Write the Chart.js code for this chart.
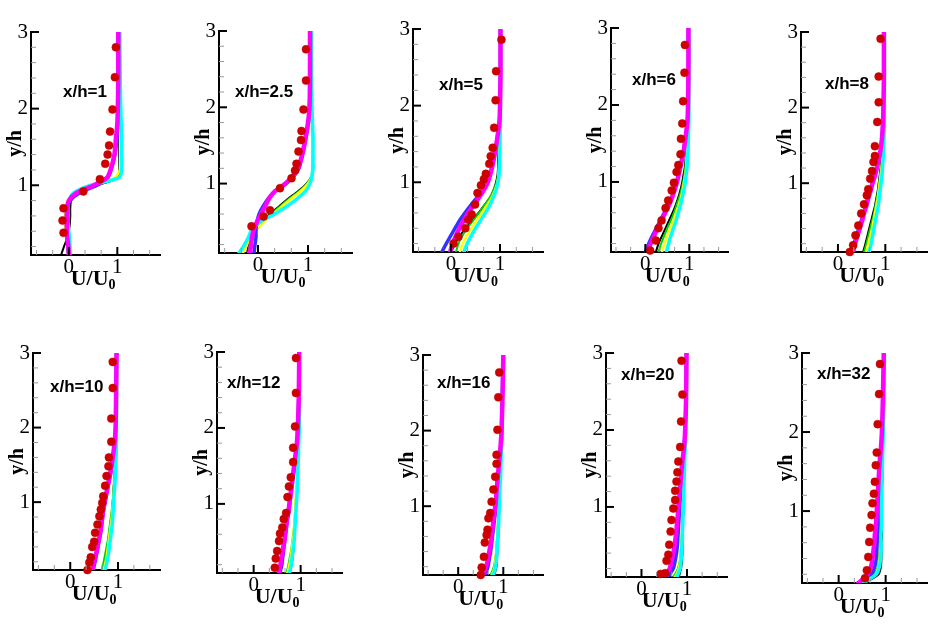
<!DOCTYPE html>
<html>
<head>
<meta charset="utf-8">
<script src="https://cdn.jsdelivr.net/npm/chart.js@4.4.1/dist/chart.umd.min.js"></script>
<style>
  html, body { margin: 0; padding: 0; background: #fff; }
  #page { position: relative; width: 942px; height: 628px; overflow: hidden; }
  #page canvas { position: absolute; }
</style>
</head>
<body>
<div id="page"></div>
<script>
// velocity profiles U/U0 vs y/h at ten stations behind the step

const stations = ['1', '2.5', '5', '6', '8', '10', '12', '16', '20', '32'];

// heights where the simulated profiles are sampled
const yLevels = [0.09, 0.2, 0.3, 0.4, 0.5, 0.6, 0.7, 0.8, 0.9, 1.0, 1.1, 1.2, 1.4, 1.6, 1.8, 2.0, 2.4, 3.0];

const magentaU = [
  [0.0, -0.01, -0.03, -0.04, -0.04, -0.04, -0.03, 0.0, 0.16, 0.52, 0.79, 0.86, 0.94, 0.97, 1.0, 1.01, 1.02, 1.02],
  [-0.16, -0.14, -0.12, -0.08, -0.02, 0.06, 0.14, 0.22, 0.34, 0.55, 0.7, 0.8, 0.89, 0.95, 1.0, 1.03, 1.04, 1.04],
  [-0.02, 0.03, 0.1, 0.17, 0.26, 0.35, 0.46, 0.57, 0.67, 0.75, 0.8, 0.84, 0.9, 0.95, 0.99, 1.0, 1.01, 1.01],
  [0.04, 0.12, 0.2, 0.28, 0.37, 0.45, 0.54, 0.61, 0.67, 0.72, 0.76, 0.8, 0.87, 0.92, 0.96, 0.97, 0.98, 0.98],
  [0.32, 0.36, 0.41, 0.46, 0.51, 0.55, 0.6, 0.64, 0.69, 0.73, 0.78, 0.82, 0.89, 0.93, 0.95, 0.96, 0.97, 0.97],
  [0.47, 0.5, 0.54, 0.57, 0.6, 0.63, 0.65, 0.67, 0.69, 0.72, 0.75, 0.78, 0.84, 0.89, 0.93, 0.95, 0.96, 0.97],
  [0.54, 0.57, 0.6, 0.62, 0.65, 0.67, 0.69, 0.71, 0.74, 0.76, 0.78, 0.8, 0.84, 0.88, 0.92, 0.94, 0.96, 0.97],
  [0.55, 0.62, 0.66, 0.69, 0.72, 0.74, 0.76, 0.78, 0.8, 0.82, 0.84, 0.85, 0.88, 0.91, 0.94, 0.96, 0.98, 1.0],
  [0.5, 0.62, 0.66, 0.7, 0.73, 0.75, 0.77, 0.78, 0.8, 0.81, 0.83, 0.84, 0.87, 0.9, 0.94, 0.96, 0.98, 0.99],
  [0.42, 0.62, 0.69, 0.72, 0.74, 0.76, 0.77, 0.79, 0.8, 0.81, 0.82, 0.83, 0.85, 0.87, 0.9, 0.92, 0.94, 0.96]
];

const blueU = [
  [0.0, -0.02, -0.03, -0.04, -0.05, -0.05, -0.04, 0.02, 0.22, 0.58, 0.8, 0.87, 0.95, 0.99, 1.01, 1.02, 1.02, 1.02],
  [-0.08, -0.06, -0.04, -0.04, -0.02, 0.02, 0.1, 0.2, 0.34, 0.56, 0.72, 0.82, 0.9, 0.96, 1.01, 1.03, 1.04, 1.04],
  [-0.19, -0.1, -0.01, 0.08, 0.17, 0.28, 0.4, 0.53, 0.64, 0.73, 0.79, 0.84, 0.9, 0.95, 0.99, 1.0, 1.01, 1.01],
  [0.0, 0.08, 0.16, 0.25, 0.34, 0.43, 0.52, 0.6, 0.66, 0.72, 0.76, 0.8, 0.87, 0.92, 0.96, 0.97, 0.98, 0.98],
  [0.29, 0.34, 0.39, 0.44, 0.49, 0.54, 0.59, 0.63, 0.68, 0.73, 0.78, 0.82, 0.89, 0.93, 0.95, 0.96, 0.97, 0.97],
  [0.48, 0.52, 0.55, 0.58, 0.61, 0.64, 0.66, 0.68, 0.7, 0.73, 0.76, 0.79, 0.85, 0.9, 0.93, 0.95, 0.96, 0.97],
  [0.56, 0.6, 0.62, 0.64, 0.66, 0.68, 0.7, 0.72, 0.75, 0.77, 0.79, 0.81, 0.85, 0.89, 0.92, 0.94, 0.96, 0.97],
  [0.6, 0.66, 0.69, 0.72, 0.74, 0.76, 0.78, 0.8, 0.82, 0.84, 0.85, 0.86, 0.89, 0.92, 0.95, 0.97, 0.98, 1.0],
  [0.58, 0.7, 0.74, 0.77, 0.79, 0.8, 0.81, 0.82, 0.83, 0.84, 0.85, 0.86, 0.88, 0.91, 0.94, 0.96, 0.98, 0.99],
  [0.45, 0.7, 0.77, 0.8, 0.81, 0.82, 0.83, 0.84, 0.85, 0.86, 0.86, 0.87, 0.88, 0.9, 0.92, 0.93, 0.95, 0.96]
];

const cyanU = [
  [0.02, 0.02, 0.01, 0.0, -0.02, -0.02, -0.02, 0.0, 0.1, 0.45, 1.04, 1.09, 1.09, 1.09, 1.08, 1.07, 1.06, 1.05],
  [-0.38, -0.27, -0.19, -0.12, 0.05, 0.33, 0.57, 0.78, 0.95, 1.04, 1.08, 1.1, 1.1, 1.1, 1.09, 1.08, 1.07, 1.07],
  [0.26, 0.33, 0.41, 0.5, 0.6, 0.7, 0.79, 0.86, 0.92, 0.96, 0.98, 0.99, 1.0, 1.0, 1.01, 1.01, 1.01, 1.01],
  [0.48, 0.53, 0.58, 0.64, 0.7, 0.75, 0.8, 0.84, 0.88, 0.91, 0.93, 0.95, 0.97, 0.98, 0.99, 0.99, 0.99, 0.99],
  [0.66, 0.7, 0.73, 0.76, 0.79, 0.82, 0.85, 0.87, 0.89, 0.91, 0.93, 0.94, 0.96, 0.97, 0.98, 0.98, 0.98, 0.98],
  [0.73, 0.77, 0.8, 0.82, 0.84, 0.86, 0.88, 0.89, 0.9, 0.91, 0.92, 0.93, 0.95, 0.96, 0.97, 0.97, 0.97, 0.97],
  [0.76, 0.8, 0.82, 0.84, 0.86, 0.87, 0.88, 0.89, 0.9, 0.91, 0.92, 0.93, 0.94, 0.95, 0.96, 0.97, 0.97, 0.97],
  [0.78, 0.83, 0.85, 0.86, 0.87, 0.88, 0.89, 0.9, 0.9, 0.91, 0.92, 0.92, 0.94, 0.95, 0.96, 0.97, 0.98, 0.99],
  [0.78, 0.85, 0.87, 0.88, 0.89, 0.9, 0.9, 0.91, 0.91, 0.92, 0.93, 0.93, 0.94, 0.95, 0.96, 0.97, 0.98, 0.99],
  [0.52, 0.8, 0.87, 0.89, 0.9, 0.9, 0.9, 0.91, 0.91, 0.91, 0.91, 0.92, 0.92, 0.93, 0.94, 0.95, 0.96, 0.97]
];

const yellowU = [
  [0.0, -0.02, -0.04, -0.06, -0.08, -0.08, -0.08, -0.02, 0.18, 0.55, 0.95, 1.05, 1.06, 1.06, 1.06, 1.06, 1.05, 1.05],
  [-0.3, -0.22, -0.14, -0.04, 0.12, 0.3, 0.48, 0.66, 0.85, 1.0, 1.08, 1.09, 1.09, 1.09, 1.08, 1.07, 1.06, 1.06],
  [0.18, 0.24, 0.32, 0.42, 0.52, 0.63, 0.73, 0.83, 0.9, 0.95, 0.97, 0.98, 0.99, 1.0, 1.0, 1.0, 1.01, 1.01],
  [0.38, 0.44, 0.5, 0.57, 0.64, 0.7, 0.76, 0.81, 0.85, 0.88, 0.91, 0.93, 0.95, 0.97, 0.98, 0.98, 0.98, 0.98],
  [0.6, 0.64, 0.68, 0.72, 0.75, 0.78, 0.81, 0.84, 0.86, 0.88, 0.9, 0.92, 0.95, 0.96, 0.97, 0.97, 0.97, 0.97],
  [0.7, 0.74, 0.77, 0.79, 0.81, 0.83, 0.85, 0.87, 0.88, 0.9, 0.91, 0.92, 0.94, 0.95, 0.96, 0.97, 0.97, 0.97],
  [0.72, 0.76, 0.79, 0.81, 0.83, 0.85, 0.86, 0.87, 0.88, 0.89, 0.9, 0.91, 0.93, 0.94, 0.95, 0.96, 0.97, 0.97],
  [0.75, 0.81, 0.83, 0.85, 0.86, 0.87, 0.88, 0.89, 0.89, 0.9, 0.91, 0.92, 0.93, 0.94, 0.95, 0.96, 0.98, 0.99],
  [0.74, 0.82, 0.85, 0.87, 0.88, 0.89, 0.89, 0.9, 0.9, 0.91, 0.92, 0.92, 0.94, 0.95, 0.96, 0.97, 0.98, 0.99],
  [0.5, 0.78, 0.85, 0.87, 0.88, 0.89, 0.89, 0.89, 0.9, 0.9, 0.9, 0.91, 0.91, 0.92, 0.93, 0.94, 0.95, 0.96]
];

const greenU = [
  [0.03, 0.03, 0.02, 0.0, -0.01, -0.02, -0.02, 0.0, 0.14, 0.5, 0.98, 1.06, 1.07, 1.07, 1.07, 1.06, 1.05, 1.05],
  [-0.2, -0.16, -0.1, -0.02, 0.1, 0.26, 0.44, 0.62, 0.82, 0.98, 1.07, 1.08, 1.09, 1.09, 1.08, 1.07, 1.06, 1.06],
  [0.1, 0.15, 0.23, 0.33, 0.45, 0.57, 0.68, 0.79, 0.87, 0.93, 0.96, 0.97, 0.98, 0.99, 0.99, 1.0, 1.0, 1.0],
  [0.3, 0.36, 0.43, 0.5, 0.58, 0.65, 0.71, 0.77, 0.82, 0.86, 0.89, 0.91, 0.94, 0.96, 0.97, 0.98, 0.98, 0.98],
  [0.55, 0.6, 0.64, 0.68, 0.72, 0.76, 0.79, 0.82, 0.85, 0.87, 0.89, 0.91, 0.94, 0.95, 0.96, 0.97, 0.97, 0.97],
  [0.66, 0.7, 0.73, 0.76, 0.79, 0.81, 0.83, 0.85, 0.87, 0.89, 0.9, 0.91, 0.93, 0.95, 0.96, 0.97, 0.97, 0.97],
  [0.7, 0.74, 0.77, 0.8, 0.82, 0.84, 0.86, 0.87, 0.88, 0.89, 0.9, 0.91, 0.93, 0.94, 0.95, 0.96, 0.97, 0.97],
  [0.72, 0.79, 0.82, 0.84, 0.85, 0.86, 0.87, 0.88, 0.89, 0.9, 0.91, 0.92, 0.93, 0.94, 0.95, 0.96, 0.98, 0.99],
  [0.7, 0.8, 0.84, 0.86, 0.87, 0.88, 0.89, 0.9, 0.9, 0.91, 0.92, 0.92, 0.94, 0.95, 0.96, 0.97, 0.98, 0.99],
  [0.5, 0.75, 0.84, 0.86, 0.87, 0.88, 0.88, 0.89, 0.89, 0.9, 0.9, 0.9, 0.91, 0.92, 0.93, 0.94, 0.95, 0.96]
];

const blackU = [
  [-0.16, -0.1, -0.04, 0.0, 0.02, 0.03, 0.03, 0.05, 0.2, 0.6, 1.02, 1.04, 1.04, 1.04, 1.04, 1.04, 1.04, 1.04],
  [-0.22, -0.18, -0.12, -0.05, 0.08, 0.24, 0.42, 0.6, 0.8, 0.97, 1.08, 1.1, 1.1, 1.1, 1.09, 1.08, 1.07, 1.07],
  [0.0, 0.08, 0.18, 0.3, 0.43, 0.56, 0.68, 0.8, 0.87, 0.92, 0.95, 0.96, 0.97, 0.98, 0.99, 1.0, 1.0, 1.0],
  [0.24, 0.3, 0.38, 0.46, 0.54, 0.62, 0.69, 0.75, 0.8, 0.84, 0.87, 0.9, 0.93, 0.95, 0.97, 0.98, 0.98, 0.98],
  [0.53, 0.58, 0.62, 0.66, 0.7, 0.74, 0.78, 0.81, 0.84, 0.86, 0.88, 0.9, 0.93, 0.95, 0.96, 0.97, 0.97, 0.97],
  [0.68, 0.72, 0.75, 0.78, 0.8, 0.82, 0.84, 0.86, 0.88, 0.89, 0.9, 0.91, 0.93, 0.95, 0.96, 0.97, 0.97, 0.97],
  [0.77, 0.81, 0.83, 0.85, 0.86, 0.87, 0.88, 0.89, 0.9, 0.91, 0.92, 0.92, 0.93, 0.94, 0.95, 0.96, 0.97, 0.97],
  [0.8, 0.85, 0.86, 0.87, 0.88, 0.89, 0.9, 0.9, 0.91, 0.91, 0.92, 0.92, 0.93, 0.94, 0.95, 0.96, 0.98, 0.99],
  [0.82, 0.87, 0.89, 0.9, 0.9, 0.91, 0.91, 0.91, 0.92, 0.92, 0.93, 0.93, 0.94, 0.95, 0.96, 0.97, 0.98, 0.99],
  [0.55, 0.85, 0.9, 0.91, 0.91, 0.91, 0.92, 0.92, 0.92, 0.92, 0.92, 0.92, 0.93, 0.93, 0.94, 0.95, 0.96, 0.97]
];

// measured points (red dots)
const dotU = [
  [0.97, 0.95, 0.90, 0.85, 0.83, 0.80, 0.75, 0.64, 0.30, -0.11, -0.13, -0.11],
  [0.96, 0.96, 0.91, 0.87, 0.86, 0.81, 0.77, 0.74, 0.67, 0.44, 0.24, 0.11, -0.13],
  [1.03, 0.92, 0.91, 0.88, 0.85, 0.81, 0.78, 0.71, 0.67, 0.61, 0.54, 0.49, 0.42, 0.35, 0.29, 0.15, 0.05],
  [0.90, 0.89, 0.86, 0.84, 0.81, 0.80, 0.75, 0.71, 0.65, 0.60, 0.52, 0.46, 0.37, 0.30, 0.24, 0.11],
  [0.90, 0.86, 0.86, 0.83, 0.78, 0.78, 0.75, 0.72, 0.68, 0.64, 0.61, 0.55, 0.49, 0.43, 0.37, 0.32, 0.25],
  [0.89, 0.89, 0.86, 0.86, 0.81, 0.80, 0.76, 0.73, 0.69, 0.67, 0.64, 0.61, 0.57, 0.52, 0.50, 0.46, 0.43, 0.40, 0.36],
  [0.90, 0.90, 0.88, 0.84, 0.84, 0.79, 0.75, 0.72, 0.69, 0.64, 0.61, 0.56, 0.54, 0.50, 0.47, 0.45],
  [0.91, 0.89, 0.87, 0.85, 0.85, 0.82, 0.78, 0.74, 0.71, 0.67, 0.65, 0.63, 0.59, 0.57, 0.52, 0.50],
  [0.88, 0.90, 0.87, 0.85, 0.81, 0.79, 0.77, 0.74, 0.74, 0.70, 0.66, 0.64, 0.61, 0.59, 0.55, 0.52, 0.42],
  [0.88, 0.86, 0.83, 0.81, 0.79, 0.77, 0.75, 0.72, 0.70, 0.67, 0.65, 0.63, 0.60, 0.56]
];
const dotY = [
  [2.80, 2.41, 1.99, 1.70, 1.52, 1.40, 1.28, 1.08, 0.92, 0.70, 0.54, 0.38],
  [2.76, 2.35, 1.97, 1.69, 1.57, 1.42, 1.26, 1.17, 1.07, 0.94, 0.65, 0.57, 0.44],
  [2.86, 2.45, 2.07, 1.71, 1.45, 1.34, 1.24, 1.11, 1.04, 0.96, 0.86, 0.71, 0.58, 0.51, 0.40, 0.29, 0.20],
  [2.78, 2.42, 2.05, 1.76, 1.56, 1.36, 1.22, 1.13, 0.99, 0.89, 0.76, 0.66, 0.50, 0.40, 0.24, 0.11],
  [2.91, 2.41, 2.07, 1.81, 1.49, 1.36, 1.28, 1.16, 1.06, 0.92, 0.84, 0.72, 0.60, 0.44, 0.31, 0.18, 0.09],
  [2.88, 2.53, 2.12, 1.81, 1.60, 1.48, 1.35, 1.22, 1.08, 0.99, 0.90, 0.81, 0.70, 0.59, 0.47, 0.40, 0.26, 0.19, 0.09],
  [2.92, 2.46, 2.02, 1.74, 1.55, 1.35, 1.23, 1.09, 0.88, 0.80, 0.69, 0.61, 0.51, 0.38, 0.28, 0.16],
  [2.77, 2.44, 2.01, 1.68, 1.56, 1.39, 1.22, 1.06, 0.91, 0.84, 0.69, 0.62, 0.52, 0.33, 0.19, 0.09],
  [2.90, 2.46, 2.11, 1.78, 1.59, 1.45, 1.33, 1.21, 1.09, 0.98, 0.83, 0.68, 0.51, 0.38, 0.30, 0.14, 0.13],
  [2.86, 2.48, 2.10, 1.74, 1.58, 1.37, 1.22, 1.10, 0.95, 0.79, 0.61, 0.42, 0.25, 0.15]
];

// axis ranges and ticks
const xRange = [-0.78, 1.88];
const yRange = [0.09, 3];
const xLabels = [0, 1];
const yLabels = [1, 2, 3];

// page layout: plot boxes [left, top, right, bottom] and label anchor [x, y]
const boxes = [
  [31, 32, 160, 255], [219, 31, 352, 253], [413, 29, 543, 252], [611, 28, 728, 252], [801, 32, 927, 252],
  [33, 353, 160, 570], [217, 352, 342, 573], [423, 355, 543, 575], [606, 353, 727, 577], [802, 353, 927, 583]
];
const labelAt = [
  [63, 92], [235, 92], [439, 85], [632, 80], [825, 84],
  [50, 387], [227, 383], [437, 383], [621, 375], [817, 374]
];

const PAD_L = 40, PAD_T = 20, PAD_R = 10, PAD_B = 42;

const serif = '"Liberation Serif", "Times New Roman", serif';
const sans = '"Liberation Sans", Arial, sans-serif';

// inward ticks, tick labels, axis titles and the station label
const decor = {
  id: 'decor',
  afterDraw(chart, args, opts) {
    const { ctx, chartArea: a, scales: { x, y } } = chart;
    ctx.save();

    // y ticks every 0.2
    for (let k = 1; k <= 15; k++) {
      const v = k / 5;
      if (v < y.min) continue;
      const py = y.getPixelForValue(v);
      const major = k % 5 === 0;
      ctx.beginPath();
      ctx.strokeStyle = major ? '#000' : '#999';
      ctx.lineWidth = major ? 2 : 1;
      ctx.moveTo(a.left, py);
      ctx.lineTo(a.left + (major ? 8 : 5), py);
      ctx.stroke();
    }
    // x ticks every 1/3
    for (let k = -2; k <= 5; k++) {
      const v = k / 3;
      const px = x.getPixelForValue(v);
      const major = k % 3 === 0;
      ctx.beginPath();
      ctx.strokeStyle = major ? '#000' : '#999';
      ctx.lineWidth = major ? 2 : 1;
      ctx.moveTo(px, a.bottom);
      ctx.lineTo(px, a.bottom - (major ? 8 : 5));
      ctx.stroke();
    }

    ctx.fillStyle = '#000';
    ctx.font = '21px ' + serif;
    ctx.textAlign = 'right';
    ctx.textBaseline = 'middle';
    yLabels.forEach(v => ctx.fillText(String(v), a.left - 3, y.getPixelForValue(v)));
    ctx.textAlign = 'center';
    xLabels.forEach(v => ctx.fillText(String(v), x.getPixelForValue(v), a.bottom + 12));

    // y/h
    ctx.save();
    ctx.translate(a.left - 15, (a.top + a.bottom) / 2);
    ctx.rotate(-Math.PI / 2);
    ctx.font = 'bold 20px ' + serif;
    ctx.textAlign = 'center';
    ctx.textBaseline = 'middle';
    ctx.fillText('y/h', 0, 0);
    ctx.restore();

    // U/U0 with subscript
    ctx.font = 'bold 22px ' + serif;
    ctx.textBaseline = 'alphabetic';
    ctx.textAlign = 'left';
    const main = 'U/U';
    const wMain = ctx.measureText(main).width;
    ctx.font = 'bold 14px ' + serif;
    const wSub = ctx.measureText('0').width;
    const cx = x.getPixelForValue(0.5);
    const x0 = cx - (wMain + wSub) / 2;
    const base = a.bottom + 30;
    ctx.font = 'bold 22px ' + serif;
    ctx.fillText(main, x0, base);
    ctx.font = 'bold 14px ' + serif;
    ctx.fillText('0', x0 + wMain, base + 4);

    // station label
    ctx.font = 'bold 17px ' + sans;
    ctx.textAlign = 'left';
    ctx.textBaseline = 'middle';
    ctx.fillText('x/h=' + opts.station, opts.lx, opts.ly);

    ctx.restore();
  }
};

function lineSet(arr, i, color, width) {
  return {
    data: yLevels.map((yv, k) => ({ x: arr[i][k], y: yv })),
    showLine: true,
    borderColor: color,
    borderWidth: width,
    pointRadius: 0,
    tension: 0.25,
    borderCapStyle: 'round',
    borderJoinStyle: 'round'
  };
}

const page = document.getElementById('page');

stations.forEach((st, i) => {
  const [bl, bt, br, bb] = boxes[i];
  const w = PAD_L + (br - bl) + PAD_R;
  const h = PAD_T + (bb - bt) + PAD_B;
  const canvas = document.createElement('canvas');
  canvas.width = w;
  canvas.height = h;
  canvas.style.left = (bl - PAD_L) + 'px';
  canvas.style.top = (bt - PAD_T) + 'px';
  canvas.style.width = w + 'px';
  canvas.style.height = h + 'px';
  page.appendChild(canvas);

  // first dataset is drawn on top
  const datasets = [
    {
      data: dotU[i].map((u, k) => ({ x: u, y: dotY[i][k] })),
      showLine: false,
      pointRadius: 4,
      pointBackgroundColor: '#d10000',
      pointBorderColor: '#b80000',
      pointBorderWidth: 0.5,
      clip: false
    },
    lineSet(magentaU, i, '#ff00ff', 4.5),
    lineSet(cyanU, i, '#00ffff', 3.5),
    lineSet(blueU, i, '#3333ff', 3.5),
    lineSet(yellowU, i, '#ffff00', 2.5),
    lineSet(greenU, i, '#00d200', 2),
    lineSet(blackU, i, '#000000', 2)
  ];

  new Chart(canvas, {
    type: 'scatter',
    data: { datasets },
    options: {
      responsive: false,
      animation: false,
      layout: { padding: { left: 0, top: PAD_T, right: PAD_R, bottom: 0 } },
      plugins: {
        legend: { display: false },
        tooltip: { enabled: false },
        decor: { station: st, lx: labelAt[i][0] - (bl - PAD_L), ly: labelAt[i][1] - (bt - PAD_T) }
      },
      scales: {
        x: {
          type: 'linear', min: xRange[0], max: xRange[1],
          grid: { display: false, drawTicks: false },
          ticks: { display: false },
          border: { display: true, color: '#000', width: 2 },
          afterFit(s) { s.height = PAD_B; }
        },
        y: {
          type: 'linear', min: yRange[0], max: yRange[1],
          grid: { display: false, drawTicks: false },
          ticks: { display: false },
          border: { display: true, color: '#000', width: 2 },
          afterFit(s) { s.width = PAD_L; }
        }
      }
    },
    plugins: [decor]
  });
});
</script>
</body>
</html>
